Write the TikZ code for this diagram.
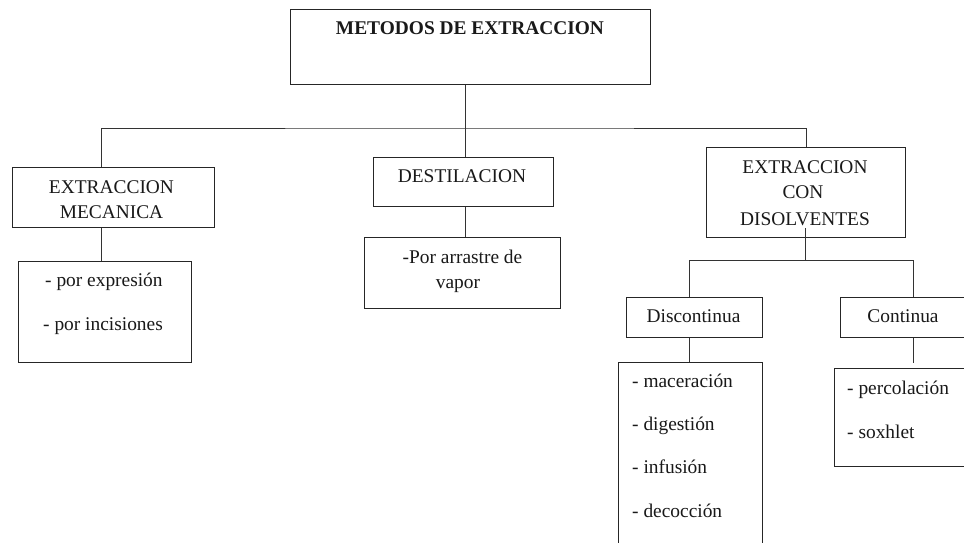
\documentclass[tikz,border=0pt]{standalone}
\usepackage{fontspec}
\setmainfont{Liberation Serif}
\usetikzlibrary{calc}
\begin{document}
\begin{tikzpicture}[x=1pt,y=-1pt,
  box/.style={draw=black!85, line width=1pt, inner sep=0pt, anchor=north west},
  conn/.style={draw=black!80, line width=1pt},
  txt/.style={inner sep=0pt, anchor=base, text=black!90, font=\fontsize{19.4}{24}\selectfont},
  btxt/.style={txt, font=\fontsize{19.4}{24}\selectfont\bfseries},
  ltxt/.style={txt, anchor=base west}]
\clip (0,0) rectangle (964,543);
\fill[white] (0,0) rectangle (964,543);
% boxes
\node[box, minimum width=360pt, minimum height=75pt] (top) at (290,9) {};
\node[box, minimum width=202pt, minimum height=60pt] (mec) at (12,167) {};
\node[box, minimum width=180pt, minimum height=49pt] (dest) at (373,157) {};
\node[box, minimum width=199pt, minimum height=90pt] (dis) at (706,147) {};
\node[box, minimum width=173pt, minimum height=101pt] (mecl) at (18,261) {};
\node[box, minimum width=196pt, minimum height=71pt] (destl) at (364,237) {};
\node[box, minimum width=136pt, minimum height=40pt] (disc) at (626,297) {};
\node[box, minimum width=126pt, minimum height=40pt] (cont) at (840,297) {};
\node[box, minimum width=144pt, minimum height=200pt] (discl) at (618,362) {};
\node[box, minimum width=146pt, minimum height=98pt] (contl) at (834,368) {};
% texts
\node[btxt] (t0) at (470,35) {METODOS DE EXTRACCION};
\node[txt] (t1a) at (111.5,193) {EXTRACCION};
\node[txt] (t1b) at (111.5,218) {MECANICA};
\node[txt] (t2) at (462,182) {DESTILACION};
\node[txt] (t3a) at (805,173) {EXTRACCION};
\node[txt] (t3b) at (803,198) {CON};
\node[txt] (t3c) at (805,225) {DISOLVENTES};
\node[ltxt] (t4a) at (45,286) {- por expresión};
\node[ltxt] (t4b) at (43,330) {- por incisiones};
\node[txt] (t5a) at (462.5,263) {-Por arrastre de};
\node[txt] (t5b) at (458,288) {vapor};
\node[txt] (t6) at (693.5,322) {Discontinua};
\node[txt] (t7) at (903,322) {Continua};
\node[ltxt] (t8a) at (632,387) {- maceración};
\node[ltxt] (t8b) at (632,430) {- digestión};
\node[ltxt] (t8c) at (632,473) {- infusión};
\node[ltxt] (t8d) at (632,517) {- decocción};
\node[ltxt] (t9a) at (847,394) {- percolación};
\node[ltxt] (t9b) at (847,438) {- soxhlet};
% connectors
\coordinate (hub) at (465,128);
\coordinate (xl) at (101,128);
\coordinate (hub2) at (805,260);
\coordinate (xd) at (689,260);
\coordinate (xc) at (913,260);
\draw[conn] (hub |- top.south) -- (hub |- dest.north);
\draw[conn] (xl |- mec.north) -- (xl) -- (hub) -| (dis.north);
\draw[conn] (xl |- mec.south) -- (xl |- mecl.north);
\draw[conn] (hub |- dest.south) -- (hub |- destl.north);
\draw[conn] ($(hub2 |- dis.south)+(0,-10)$) -- (hub2);
\draw[conn] (xd |- disc.north) -- (xd) -- (xc) -- (xc |- cont.north);
\draw[conn] (xd |- disc.south) -- (xd |- discl.north);
\draw[conn] (xc |- cont.south) -- ($(xc |- contl.north)+(0,-5)$);
\end{tikzpicture}
\end{document}
